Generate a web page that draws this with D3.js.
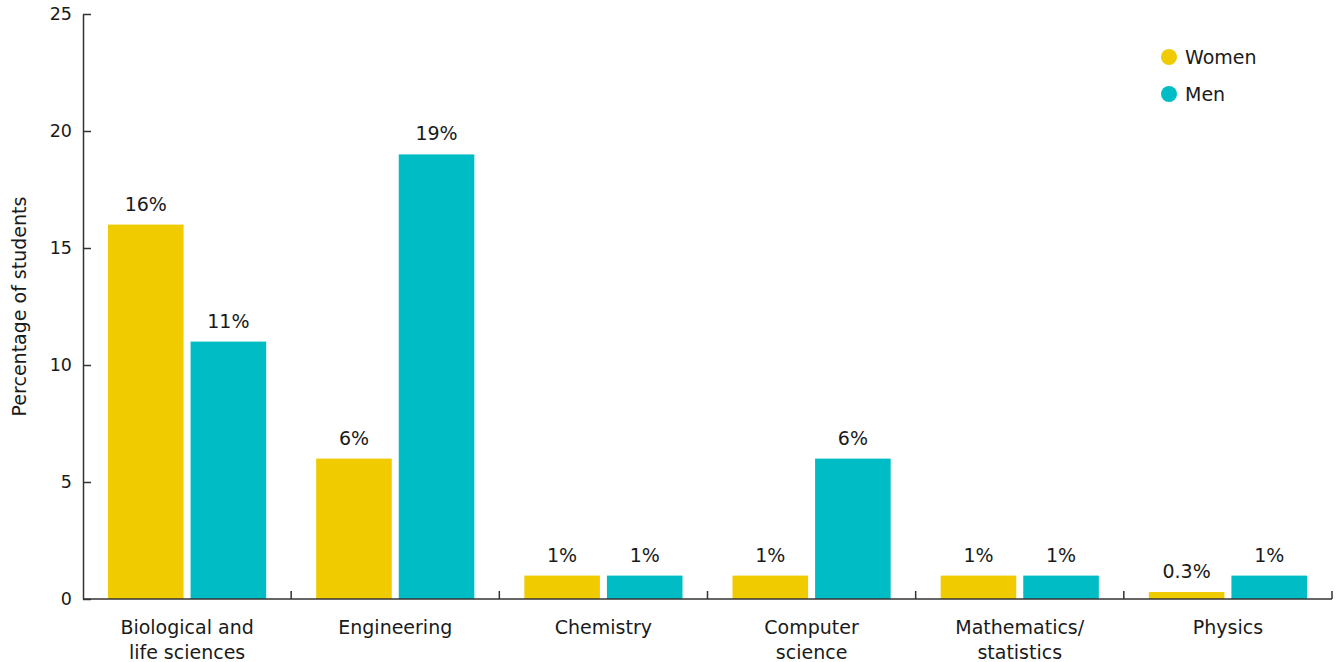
<!DOCTYPE html>
<html><head><meta charset="utf-8">
<script src="https://cdn.jsdelivr.net/npm/d3@7"></script>
<style>
body{margin:0;background:#fff;}
text{font-family:"DejaVu Sans","Noto Sans",sans-serif;fill:#1a1a1a;}
</style></head>
<body>
<svg id="chart" width="1341" height="662"></svg>
<script>
const categories = [["Biological and","life sciences"],["Engineering"],["Chemistry"],["Computer","science"],["Mathematics/","statistics"],["Physics"]];
const women = [16, 6, 1, 1, 1, 0.3];
const men = [11, 19, 1, 6, 1, 1];
const womenLabels = ["16%","6%","1%","1%","1%","0.3%"];
const menLabels = ["11%","19%","1%","6%","1%","1%"];
const yTicks = [0,5,10,15,20,25];
const seriesNames = ["Women","Men"];
const colors = ["#F0CB00","#00BCC4"];

const svg = d3.select("#chart");
const m = {l:83, r:9, t:14, b:63};
const W = 1341, H = 662;
const FS = 19;
const x = d3.scaleBand().domain(d3.range(categories.length)).range([m.l, W-m.r]).paddingInner(0).paddingOuter(0);
const y = d3.scaleLinear().domain([0,25]).range([H-m.b, m.t]);
const inner = d3.scaleBand().domain([0,1]).range([25, x.bandwidth()-25]).paddingInner(0.085);

const series = [women, men];
const labels = [womenLabels, menLabels];

series.forEach((vals, s) => {
  svg.append("g").selectAll("rect").data(vals).join("rect")
    .attr("x", (d,i)=> x(i)+inner(s))
    .attr("y", d=> y(d))
    .attr("width", inner.bandwidth())
    .attr("height", d=> y(0)-y(d))
    .attr("fill", colors[s]);
  svg.append("g").selectAll("text").data(vals).join("text")
    .attr("x", (d,i)=> x(i)+inner(s)+inner.bandwidth()/2)
    .attr("y", d=> y(d)-14)
    .attr("text-anchor","middle")
    .attr("font-size", FS)
    .text((d,i)=> labels[s][i]);
});

// y axis
const ya = svg.append("g").attr("transform",`translate(${m.l},0)`)
  .call(d3.axisLeft(y).tickValues(yTicks).tickSize(-8).tickPadding(11).tickSizeOuter(0));
ya.select(".domain").attr("stroke","#333").attr("stroke-width",1.5);
ya.selectAll(".tick line").attr("stroke","#333").attr("stroke-width",1.5);
ya.selectAll(".tick text").attr("font-size",17.5).attr("font-family","'DejaVu Sans',sans-serif").attr("fill","#1a1a1a");

// x axis line and ticks
const xa = svg.append("g").attr("transform",`translate(0,${y(0)})`);
xa.append("line").attr("x1",m.l).attr("x2",W-m.r).attr("stroke","#333").attr("stroke-width",1.5);
xa.selectAll("line.t").data(d3.range(1,categories.length+1)).join("line").attr("class","t")
  .attr("x1",i=> x.step()*i + m.l).attr("x2",i=> x.step()*i + m.l)
  .attr("y1",0).attr("y2",-8).attr("stroke","#333").attr("stroke-width",1.5);
categories.forEach((c,i)=>{
  const t = xa.append("text").attr("text-anchor","middle").attr("font-size",FS)
    .attr("x", x(i)+x.bandwidth()/2).attr("y", 35);
  c.forEach((line,j)=> t.append("tspan").attr("x", x(i)+x.bandwidth()/2).attr("dy", j===0?0:25).text(line));
});

// y title
svg.append("text").attr("transform",`translate(26,${(y(0)+y(25))/2}) rotate(-90)`)
  .attr("text-anchor","middle").attr("font-size",FS).text("Percentage of students");

// legend
seriesNames.forEach((n,i)=>{
  const g = svg.append("g").attr("transform",`translate(1169,${57+i*37})`);
  g.append("circle").attr("r",8).attr("fill",colors[i]);
  g.append("text").attr("x",16).attr("y",7).attr("font-size",FS).text(n);
});
</script>
</body></html>
